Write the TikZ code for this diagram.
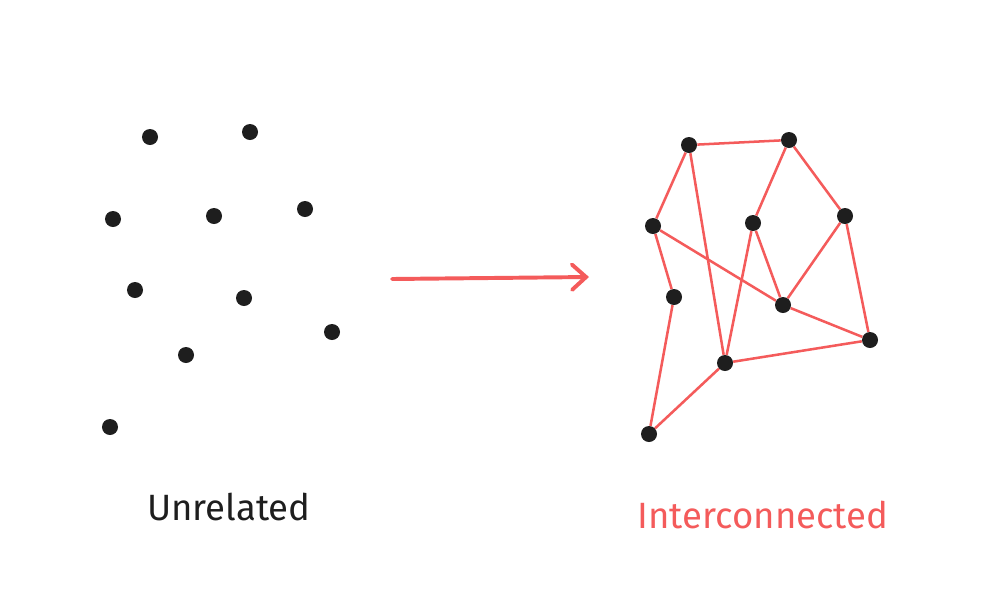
\documentclass[tikz,border=0pt]{standalone}
\usepackage{fontspec}
\setmainfont{Fira Sans}
\usetikzlibrary{arrows.meta}
\definecolor{linkred}{HTML}{F45B5B}
\definecolor{dotblack}{HTML}{1E1E1E}
\tikzset{
  dot/.style={circle, fill=dotblack, inner sep=0pt, minimum size=0.4cm},
  link/.style={linkred, line width=1.8pt},
  caption/.style={font=\fontsize{26}{30}\selectfont}
}
\begin{document}
\begin{tikzpicture}[x=0.025cm,y=-0.025cm]
  \useasboundingbox (0,0) rectangle (1000,600);
  % scattered points
  \foreach \x/\y in {150/137,250/132,113/219,214/216,305/209,
                     135/290,244/298,332/332,186/355,110/427}
    \fill[dotblack] (\x,\y) circle (0.2cm);
  % arrow
  \coordinate (from) at (392,279);
  \coordinate (to) at (589,277);
  \draw[linkred, line width=2.8pt, line cap=round,
        -{Straight Barb[length=10pt, width=18pt, line cap=round]}] (from) -- (to);
  % network
  \foreach \n/\x/\y in {a/689/145,b/789/140,c/653/226,d/753/223,e/845/216,
                        f/674/297,g/783/305,h/870/340,i/725/363,j/649/434}
    \node[dot] (\n) at (\x,\y) {};
  \foreach \u/\v in {a/b,a/c,a/i,b/d,b/e,c/f,c/g,d/i,d/g,
                     e/g,e/h,g/h,i/h,f/j,j/i}
    \draw[link] (\u) -- (\v);
  % labels
  \node[caption, text=dotblack] (unrelated) at (229,507) {Unrelated};
  \node[caption, text=linkred] (interconnected) at (763,515) {Interconnected};
\end{tikzpicture}
\end{document}
